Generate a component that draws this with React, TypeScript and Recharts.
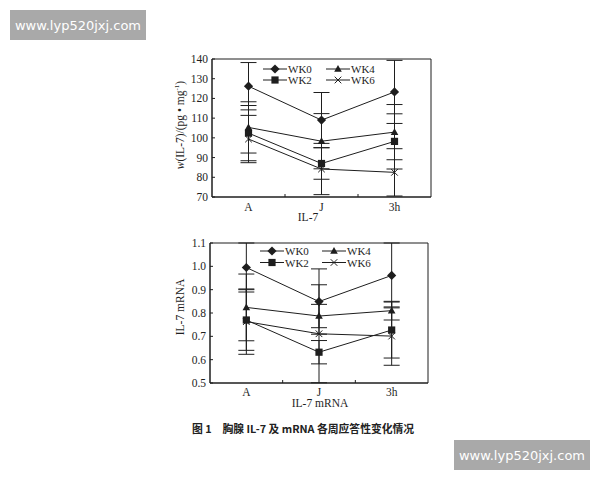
import React from 'react';
import { LineChart, Line, XAxis, YAxis, ErrorBar, ReferenceArea } from 'recharts';

const categories = ['A', 'J', '3h'];
const seriesNames = ['WK0', 'WK2', 'WK4', 'WK6'];

// Top panel: w(IL-7)
const proteinWK0 = [126.2, 109.0, 123.3];
const proteinWK2 = [102.4, 87.0, 98.2];
const proteinWK4 = [105.3, 98.3, 102.9];
const proteinWK6 = [99.4, 84.2, 82.5];
const proteinWK0Err = [12, 14, 16];
const proteinWK2Err = [14, 8, 14];
const proteinWK4Err = [13, 14, 14];
const proteinWK6Err = [12, 13, 12];
const proteinTicks = [70, 80, 90, 100, 110, 120, 130, 140];

// Bottom panel: IL-7 mRNA
const mrnaWK0 = [0.995, 0.849, 0.961];
const mrnaWK2 = [0.77, 0.632, 0.727];
const mrnaWK4 = [0.824, 0.787, 0.81];
const mrnaWK6 = [0.763, 0.711, 0.701];
const mrnaWK0Err = [0.105, 0.14, 0.139];
const mrnaWK2Err = [0.13, 0.05, 0.12];
const mrnaWK4Err = [0.143, 0.05, 0.04];
const mrnaWK6Err = [0.14, 0.21, 0.125];
const mrnaTicks = [0.5, 0.6, 0.7, 0.8, 0.9, 1.0, 1.1];

const xTicks = [-0.5, 0, 0.5, 1, 1.5, 2, 2.5];

const proteinData = categories.map((c, i) => ({
  x: i,
  name: c,
  WK0: proteinWK0[i], WK0Err: proteinWK0Err[i],
  WK2: proteinWK2[i], WK2Err: proteinWK2Err[i],
  WK4: proteinWK4[i], WK4Err: proteinWK4Err[i],
  WK6: proteinWK6[i], WK6Err: proteinWK6Err[i],
}));

const mrnaData = categories.map((c, i) => ({
  x: i,
  name: c,
  WK0: mrnaWK0[i], WK0Err: mrnaWK0Err[i],
  WK2: mrnaWK2[i], WK2Err: mrnaWK2Err[i],
  WK4: mrnaWK4[i], WK4Err: mrnaWK4Err[i],
  WK6: mrnaWK6[i], WK6Err: mrnaWK6Err[i],
}));

const INK = '#1e1e1e';
const SERIF = '"Liberation Serif", "Times New Roman", serif';

function Marker({ cx, cy, kind }: { cx: number; cy: number; kind: string }) {
  if (cx == null || cy == null) return null;
  if (kind === 'WK0') {
    const r = 4.6;
    return <polygon points={`${cx},${cy - r} ${cx + r},${cy} ${cx},${cy + r} ${cx - r},${cy}`} fill={INK} />;
  }
  if (kind === 'WK2') {
    const r = 3.6;
    return <rect x={cx - r} y={cy - r} width={2 * r} height={2 * r} fill={INK} />;
  }
  if (kind === 'WK4') {
    return <polygon points={`${cx},${cy - 4} ${cx + 3.8},${cy + 2.8} ${cx - 3.8},${cy + 2.8}`} fill={INK} />;
  }
  const r = 3.3;
  return (
    <g stroke={INK} strokeWidth={1}>
      <line x1={cx - r} y1={cy - r} x2={cx + r} y2={cy + r} />
      <line x1={cx - r} y1={cy + r} x2={cx + r} y2={cy - r} />
    </g>
  );
}

const makeDot = (kind: string) => (props: any) => (
  <Marker key={`${kind}-${props.index}`} cx={props.cx} cy={props.cy} kind={kind} />
);

const makeXTick = (labelDy: number) => (props: any) => {
  const { x, y, payload } = props;
  const v = payload.value;
  if (Math.abs(v - Math.round(v)) < 1e-6) {
    return (
      <text x={x} y={y + labelDy} textAnchor="middle" fontSize={11.5} fontFamily={SERIF} fill={INK}>
        {categories[Math.round(v)]}
      </text>
    );
  }
  if (v > -0.4 && v < 2.4) {
    return <line x1={x} x2={x} y1={y} y2={y - 3} stroke={INK} strokeWidth={1} />;
  }
  return <g />;
};

const makeYTick = (plotLeft: number, fmt: (v: number) => string) => (props: any) => {
  const { y, payload } = props;
  return (
    <g>
      <text x={plotLeft - 4} y={y + 4} textAnchor="end" fontSize={11.5} fontFamily={SERIF} fill={INK}>
        {fmt(payload.value)}
      </text>
      <line x1={plotLeft} x2={plotLeft + 3} y1={y} y2={y} stroke={INK} strokeWidth={1} />
    </g>
  );
};

function Panel({
  data, ticks, domain, fmt, plot, top, labelDy,
}: {
  data: any[]; ticks: number[]; domain: [number, number]; fmt: (v: number) => string;
  plot: { left: number; right: number; top: number; bottom: number }; top: number; labelDy: number;
}) {
  const W = 600;
  const H = 240;
  const yW = 40;
  const xH = 30;
  return (
    <div style={{ position: 'absolute', left: 0, top }}>
      <LineChart
        width={W}
        height={H}
        data={data}
        margin={{
          left: plot.left - yW,
          right: W - plot.right,
          top: plot.top - top,
          bottom: H - (plot.bottom - top) - xH,
        }}
      >
        <XAxis
          dataKey="x"
          type="number"
          domain={[-0.5, 2.5]}
          ticks={xTicks}
          interval={0}
          height={xH}
          tickLine={false}
          tickSize={0}
          tickMargin={0}
          axisLine={{ stroke: INK }}
          tick={makeXTick(labelDy)}
          allowDataOverflow
        />
        <YAxis
          type="number"
          domain={domain}
          ticks={ticks}
          interval={0}
          width={yW}
          tickLine={false}
          tickSize={0}
          tickMargin={4}
          axisLine={{ stroke: INK }}
          tick={makeYTick(plot.left, fmt)}
          allowDataOverflow
        />
        <ReferenceArea x1={-0.5} x2={2.5} y1={domain[0]} y2={domain[1]} fill="none" stroke={INK} strokeWidth={1} />
        {seriesNames.map((s) => (
          <Line
            key={s}
            dataKey={s}
            stroke={INK}
            strokeWidth={1}
            dot={makeDot(s)}
            activeDot={false}
            isAnimationActive={false}
          >
            <ErrorBar dataKey={`${s}Err`} width={8} stroke={INK} strokeWidth={1} />
          </Line>
        ))}
      </LineChart>
    </div>
  );
}

function LegendBlock({ x0, x1, y0, y1 }: { x0: number; x1: number; y0: number; y1: number }) {
  const items = [
    { s: 'WK0', x: x0, y: y0 },
    { s: 'WK4', x: x1, y: y0 },
    { s: 'WK2', x: x0, y: y1 },
    { s: 'WK6', x: x1, y: y1 },
  ];
  return (
    <g>
      {items.map((it) => (
        <g key={it.s}>
          <line x1={it.x} x2={it.x + 24} y1={it.y} y2={it.y} stroke={INK} strokeWidth={1} />
          <Marker cx={it.x + 12} cy={it.y} kind={it.s} />
          <text x={it.x + 25} y={it.y + 4} fontSize={11} fontFamily={SERIF} fill={INK}>{it.s}</text>
        </g>
      ))}
    </g>
  );
}

export default function App() {
  return (
    <div style={{ position: 'absolute', left: 0, top: 0, width: 600, height: 480, background: '#fff', overflow: 'hidden' }}>
      <Panel
        data={proteinData}
        ticks={proteinTicks}
        domain={[70, 140]}
        fmt={(v) => String(v)}
        plot={{ left: 212, right: 431, top: 59, bottom: 197 }}
        top={0}
        labelDy={14}
      />
      <Panel
        data={mrnaData}
        ticks={mrnaTicks}
        domain={[0.5, 1.1]}
        fmt={(v) => v.toFixed(1)}
        plot={{ left: 210, right: 428, top: 243, bottom: 383 }}
        top={200}
        labelDy={13}
      />
      <svg width={600} height={480} style={{ position: 'absolute', left: 0, top: 0, pointerEvents: 'none' }}>
        <LegendBlock x0={263} x1={326} y0={69} y1={80} />
        <LegendBlock x0={260} x1={322} y0={251} y1={262.5} />

        <text x={308} y={221} textAnchor="middle" fontSize={11.5} fontFamily={SERIF} fill={INK}>IL-7</text>
        <text x={320} y={407} textAnchor="middle" fontSize={11.5} fontFamily={SERIF} fill={INK}>IL-7 mRNA</text>

        <text transform="translate(184,125) rotate(-90)" textAnchor="middle" fontSize={11.5} fontFamily={SERIF} fill={INK}>
          <tspan fontStyle="italic">w</tspan>
          <tspan>(IL-7)/(pg • mg</tspan>
          <tspan fontSize={7} dy={-5}>-1</tspan>
          <tspan dy={5}>)</tspan>
        </text>
        <text transform="translate(184,307) rotate(-90)" textAnchor="middle" fontSize={11.5} fontFamily={SERIF} fill={INK}>
          IL-7 mRNA
        </text>

        <text x={192} y={433} fontSize={10.8} fontWeight="bold" fontFamily='"Noto Sans CJK SC", sans-serif' fill="#222">
          图 1　胸腺 IL-7 及 mRNA 各周应答性变化情况
        </text>

        <rect x={10} y={10} width={136} height={30} fill="#a9a9a9" />
        <text x={78} y={30} textAnchor="middle" fontSize={13} fontFamily='"DejaVu Sans", sans-serif' fill="#fff">www.lyp520jxj.com</text>
        <rect x={454} y={440} width={136} height={30} fill="#a9a9a9" />
        <text x={522} y={460} textAnchor="middle" fontSize={13} fontFamily='"DejaVu Sans", sans-serif' fill="#fff">www.lyp520jxj.com</text>
      </svg>
    </div>
  );
}
